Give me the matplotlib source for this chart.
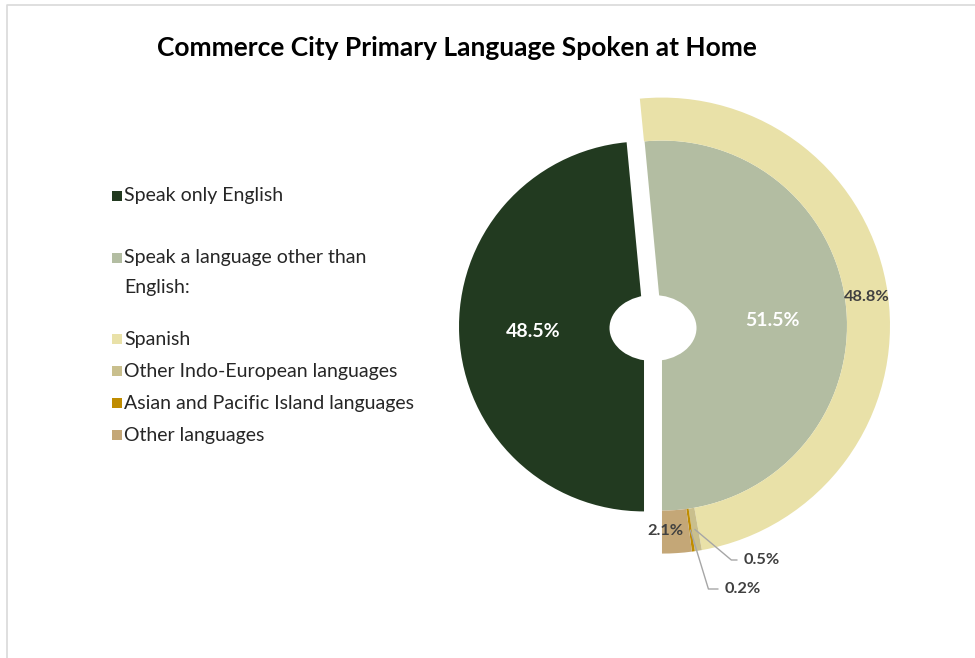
import matplotlib
matplotlib.use("Agg")
import matplotlib.pyplot as plt
from matplotlib.patches import Ellipse, Rectangle
import numpy as np

plt.rcParams["font.family"] = ["Lato", "DejaVu Sans"]

# --- Data ---
title = "Commerce City Primary Language Spoken at Home"

home_labels = ["Speak only English", "Speak a language other than\nEnglish:"]
home_share = [48.5, 51.5]
home_colors = ["#223a20", "#b3bda2"]

other_labels = ["Spanish", "Other Indo-European languages",
                "Asian and Pacific Island languages", "Other languages"]
other_share = [48.8, 0.5, 0.2, 2.1]
other_colors = ["#e9e1a8", "#c9bf8d", "#bf8c00", "#c4a777"]

# --- Figure in pixel units (y up) ---
W, H = 975, 658
fig = plt.figure(figsize=(W / 100, H / 100), dpi=100)
ax = fig.add_axes([0, 0, 1, 1])

center = (653, 332)
r_in, r_out = 185, 228

# inner pie: English vs. other language, split apart
wedges, _, pcts = ax.pie(home_share, colors=home_colors, center=center,
                         radius=r_in, startangle=-90, counterclock=False,
                         explode=[9, 9], autopct=lambda p: f"{p:.1f}%",
                         pctdistance=0.6,
                         textprops=dict(color="white", fontsize=14,
                                        fontweight="bold"))

# outer ring: breakdown of the non-English share, hung off the right slice
ring_vals = [home_share[0]] + other_share
ring, _ = ax.pie(ring_vals, colors=["white"] + other_colors,
                 center=wedges[1].center, radius=r_out, startangle=-90,
                 counterclock=False, wedgeprops=dict(width=r_out - r_in))
ring[0].set_visible(False)

# hole in the middle
ax.add_patch(Ellipse((653, 330), 87, 66, facecolor="white", edgecolor="none",
                     zorder=5))


def ring_point(w):
    mid = np.deg2rad((w.theta1 + w.theta2) / 2)
    rm = w.r - w.width / 2
    return (w.center[0] + rm * np.cos(mid), w.center[1] + rm * np.sin(mid))


lbl = dict(fontsize=11.8, fontweight="bold", color="#404040", zorder=6)
spanish_w, indo_w, asian_w, rest_w = ring[1:]
ax.text(*ring_point(spanish_w), f"{other_share[0]}%", ha="center",
        va="center", **lbl)
ax.text(665, H - 531, f"{other_share[3]}%", ha="center", va="center", **lbl)
ax.annotate(f"{other_share[1]}%", xy=ring_point(indo_w),
            xytext=(744, H - 560), ha="left", va="center",
            arrowprops=dict(arrowstyle="-", color="#a6a6a6", lw=1,
                            shrinkA=3, shrinkB=0,
                            connectionstyle="angle,angleA=0,angleB=140,rad=0"),
            **lbl)
ax.annotate(f"{other_share[2]}%", xy=ring_point(asian_w),
            xytext=(725, H - 589), ha="left", va="center",
            arrowprops=dict(arrowstyle="-", color="#a6a6a6", lw=1,
                            shrinkA=3, shrinkB=0,
                            connectionstyle="angle,angleA=0,angleB=107,rad=0"),
            **lbl)

# --- legend on the left ---
legend_rows = [196, 258, 339, 371, 403, 435]
entries = list(zip(home_labels, home_colors)) + list(zip(other_labels, other_colors))
for (name, color), y in zip(entries, legend_rows):
    ax.add_patch(Rectangle((112, H - y - 5), 10, 10, facecolor=color,
                           edgecolor="none"))
    for i, line in enumerate(name.split("\n")):
        ax.text(124, H - y - 30 * i, line, ha="left", va="center",
                fontsize=14, color="#262626")

ax.text(457, H - 48, title, ha="center", va="center", fontsize=19,
        fontweight="bold", color="black")

# light chart border
ax.plot([7, 7, W + 5], [-5, H - 5, H - 5], color="#d9d9d9", lw=1.2)

ax.set_xlim(0, W)
ax.set_ylim(0, H)
ax.set_aspect("equal")
ax.axis("off")

fig.savefig("out.png", dpi=100)
